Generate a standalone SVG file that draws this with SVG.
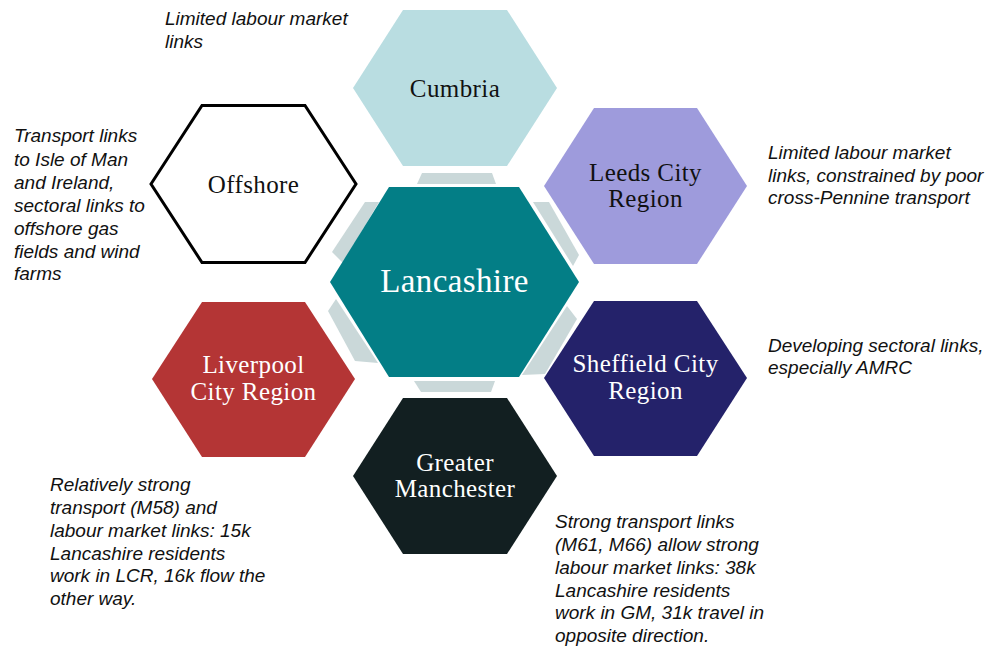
<svg xmlns="http://www.w3.org/2000/svg" width="990" height="648" viewBox="0 0 990 648">
  <style>
    .lbl { font-family: "Liberation Serif", "Times New Roman", serif; font-size: 25px; letter-spacing: 0.4px; text-anchor: middle; }
    .dark { fill: #111111; }
    .light { fill: #ffffff; }
    .note { font-family: "Liberation Sans", Arial, sans-serif; font-style: italic; font-size: 19px; fill: #111111; }
    .band { fill: #cad8d9; }
  </style>
  <rect width="990" height="648" fill="#ffffff"/>

  <!-- link bands around the central hexagon -->
  <g id="connectors">
    <polygon class="band" points="422,173 492,173 496,184 417,184"/>
    <polygon class="band" points="414,381 495,381 491,392 421,392"/>
    <polygon class="band" points="365,202 379,202 343,263 332,252"/>
    <polygon class="band" points="533,202 549,202 579,255 573,266"/>
    <polygon class="band" points="336,299 328,311 355,361 378,363"/>
    <polygon class="band" points="567,306 577,319 545,374 522,375"/>
  </g>

  <g id="lancashire">
    <polygon points="330,282 389,187 519,187 579,282 519,377 389,377" fill="#037e86"/>
    <text class="lbl light" x="454.5" y="292" style="font-size:33px">Lancashire</text>
  </g>

  <g id="cumbria">
    <polygon points="353,88 403,10 507,10 557,88 507,166 403,166" fill="#b9dde1"/>
    <text class="lbl dark" x="455" y="97">Cumbria</text>
  </g>

  <g id="leeds">
    <polygon points="544,186 594,108 697,108 747,186 697,264 594,264" fill="#9e9bdc"/>
    <text class="lbl dark" x="645.5" y="181">Leeds City</text>
    <text class="lbl dark" x="645.5" y="207">Region</text>
  </g>

  <g id="sheffield">
    <polygon points="544,378 594,301 697,301 747,378 697,456 594,456" fill="#24226a"/>
    <text class="lbl light" x="645.5" y="372">Sheffield City</text>
    <text class="lbl light" x="645.5" y="399">Region</text>
  </g>

  <g id="greater-manchester">
    <polygon points="353,476 403,398 507,398 557,476 507,554 403,554" fill="#121f21"/>
    <text class="lbl light" x="455" y="471">Greater</text>
    <text class="lbl light" x="455" y="497">Manchester</text>
  </g>

  <g id="liverpool">
    <polygon points="152,379 202,302 305,302 355,379 305,457 202,457" fill="#b43535"/>
    <text class="lbl light" x="253.5" y="373">Liverpool</text>
    <text class="lbl light" x="253.5" y="400">City Region</text>
  </g>

  <g id="offshore">
    <polygon points="151,184 202,105.5 305,105.5 356,184 305,262.5 202,262.5" fill="#ffffff" stroke="#000000" stroke-width="3" stroke-linejoin="miter"/>
    <text class="lbl dark" x="253.5" y="193">Offshore</text>
  </g>

  <!-- annotations -->
  <g id="note-cumbria" class="note">
    <text x="165" y="25">Limited labour market</text>
    <text x="165" y="48">links</text>
  </g>

  <g id="note-offshore" class="note">
    <text x="14" y="142">Transport links</text>
    <text x="14" y="166">to Isle of Man</text>
    <text x="14" y="189">and Ireland,</text>
    <text x="14" y="212">sectoral links to</text>
    <text x="14" y="235">offshore gas</text>
    <text x="14" y="258">fields and wind</text>
    <text x="14" y="280">farms</text>
  </g>

  <g id="note-leeds" class="note">
    <text x="768" y="159">Limited labour market</text>
    <text x="768" y="182">links, constrained by poor</text>
    <text x="768" y="204">cross-Pennine transport</text>
  </g>

  <g id="note-sheffield" class="note">
    <text x="768" y="352">Developing sectoral links,</text>
    <text x="768" y="374">especially AMRC</text>
  </g>

  <g id="note-liverpool" class="note">
    <text x="50" y="491">Relatively strong</text>
    <text x="50" y="514">transport (M58) and</text>
    <text x="50" y="537">labour market links: 15k</text>
    <text x="50" y="560">Lancashire residents</text>
    <text x="50" y="582">work in LCR, 16k flow the</text>
    <text x="50" y="605">other way.</text>
  </g>

  <g id="note-manchester" class="note">
    <text x="555" y="528">Strong transport links</text>
    <text x="555" y="551">(M61, M66) allow strong</text>
    <text x="555" y="574">labour market links: 38k</text>
    <text x="555" y="597">Lancashire residents</text>
    <text x="555" y="619">work in GM, 31k travel in</text>
    <text x="555" y="642">opposite direction.</text>
  </g>
</svg>
